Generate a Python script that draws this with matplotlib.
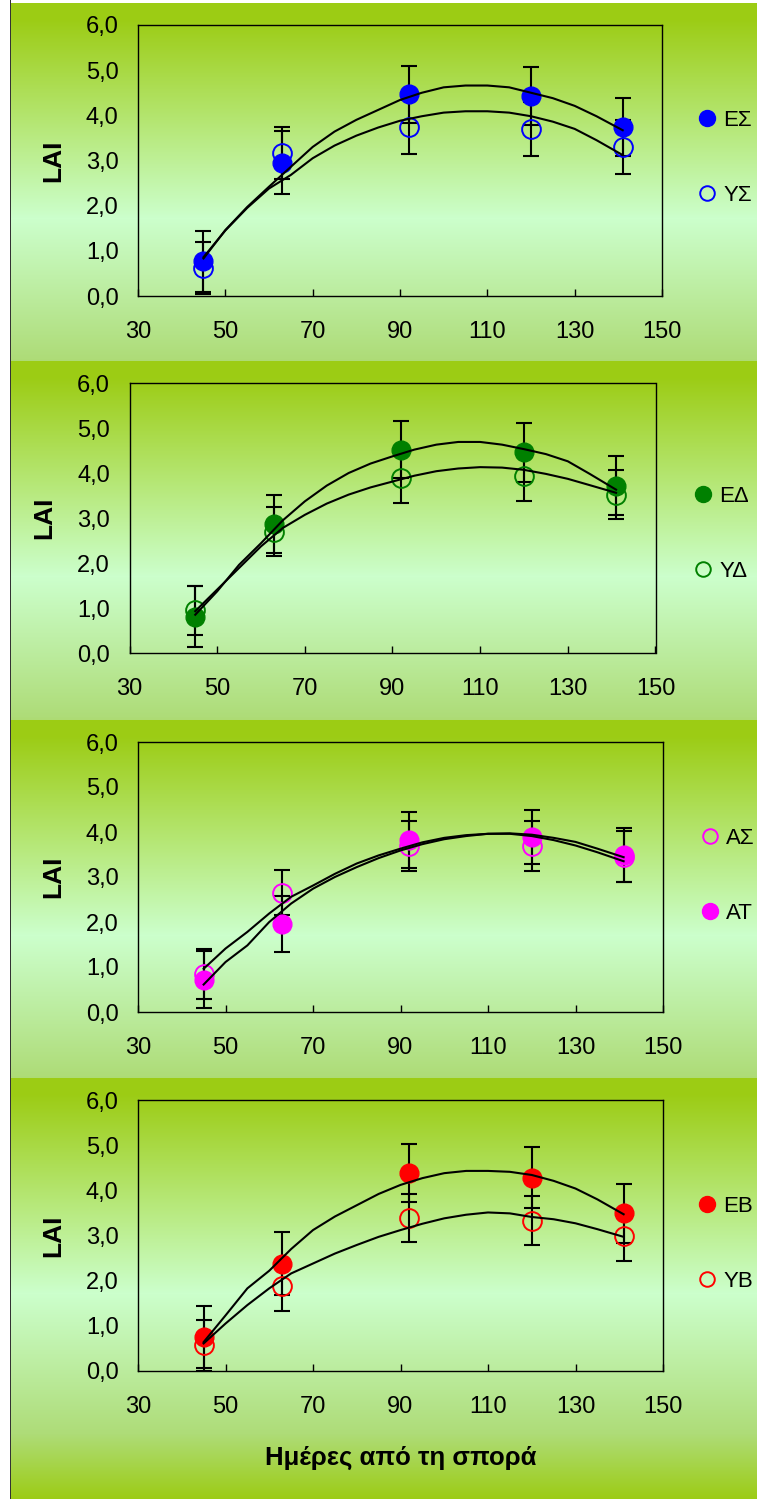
import numpy as np
import matplotlib
matplotlib.use('Agg')
import matplotlib.pyplot as plt
from matplotlib.lines import Line2D
from matplotlib.ticker import FuncFormatter

plt.rcParams['font.family'] = ['Liberation Sans', 'DejaVu Sans']

# sampling days
days = [45, 63, 92, 120, 141]
curve_days = [45, 50, 55, 60, 65, 70, 75, 80, 85, 90, 95, 100, 105,
              110, 115, 120, 125, 130, 135, 141]

# panel 1 (ΕΣ / ΥΣ)
es = [0.77, 2.95, 4.47, 4.42, 3.75]
es_err = [0.68, 0.70, 0.63, 0.64, 0.64]
ys = [0.62, 3.17, 3.75, 3.70, 3.30]
ys_err = [0.58, 0.57, 0.60, 0.60, 0.59]
es_fit = [0.83, 1.46, 1.97, 2.42, 2.86, 3.30, 3.64, 3.90, 4.12, 4.34, 4.50, 4.62, 4.66,
          4.66, 4.62, 4.50, 4.38, 4.21, 3.98, 3.67]
ys_fit = [0.86, 1.45, 1.95, 2.38, 2.68, 3.05, 3.33, 3.55, 3.73, 3.88, 3.98, 4.06, 4.09,
          4.09, 4.06, 3.98, 3.86, 3.70, 3.45, 3.12]

# panel 2 (ΕΔ / ΥΔ)
ed = [0.81, 2.87, 4.52, 4.46, 3.72]
ed_err = [0.68, 0.65, 0.63, 0.65, 0.65]
yd = [0.95, 2.70, 3.89, 3.93, 3.52]
yd_err = [0.54, 0.55, 0.55, 0.55, 0.55]
ed_fit = [0.85, 1.37, 1.96, 2.44, 2.95, 3.37, 3.72, 4.00, 4.21, 4.37, 4.52, 4.63, 4.69,
          4.69, 4.63, 4.53, 4.42, 4.26, 3.98, 3.63]
yd_fit = [0.93, 1.41, 1.89, 2.37, 2.78, 3.07, 3.32, 3.52, 3.68, 3.81, 3.94, 4.04, 4.10,
          4.13, 4.12, 4.07, 3.98, 3.87, 3.73, 3.56]

# panel 3 (ΑΣ / ΑΤ)
as_ = [0.85, 2.65, 3.69, 3.69, 3.45]
as_err = [0.55, 0.50, 0.55, 0.56, 0.57]
at = [0.72, 1.96, 3.83, 3.89, 3.48]
at_err = [0.63, 0.62, 0.62, 0.60, 0.60]
as_fit = [0.96, 1.41, 1.78, 2.19, 2.56, 2.81, 3.07, 3.30, 3.48, 3.63, 3.77, 3.87, 3.93,
          3.96, 3.97, 3.94, 3.87, 3.78, 3.63, 3.44]
at_fit = [0.61, 1.11, 1.48, 2.00, 2.41, 2.74, 3.00, 3.22, 3.42, 3.59, 3.73, 3.84, 3.91,
          3.96, 3.96, 3.91, 3.82, 3.70, 3.55, 3.35]

# panel 4 (ΕΒ / ΥΒ)
eb = [0.75, 2.38, 4.38, 4.28, 3.49]
eb_err = [0.68, 0.69, 0.64, 0.67, 0.66]
yb = [0.57, 1.88, 3.39, 3.33, 2.99]
yb_err = [0.57, 0.55, 0.53, 0.54, 0.55]
eb_fit = [0.64, 1.23, 1.83, 2.22, 2.70, 3.12, 3.42, 3.67, 3.92, 4.12, 4.27, 4.38, 4.43,
          4.43, 4.41, 4.34, 4.21, 4.04, 3.80, 3.47]
yb_fit = [0.61, 1.05, 1.46, 1.83, 2.16, 2.38, 2.60, 2.79, 2.97, 3.12, 3.26, 3.38, 3.46,
          3.51, 3.49, 3.41, 3.36, 3.27, 3.14, 2.97]

W, H = 757, 1499
fig = plt.figure(figsize=(W / 100, H / 100), dpi=100)

# background: white strip, dark line, then a gradient per panel
bright = np.array([156, 204, 20]) / 255
pale = np.array([204, 255, 204]) / 255
mid = np.array([174, 220, 120]) / 255
stop_d = [0, 15, 215, 355, 421]
stop_c = [bright, bright, pale, mid, bright]
bg = np.ones((H, W, 3))
panel_edges = [3, 361, 720, 1078, H]
for top, bot in zip(panel_edges[:-1], panel_edges[1:]):
    d = np.arange(bot - top)
    for k in range(3):
        col = np.interp(d, stop_d, [c[k] for c in stop_c])
        bg[top:bot, 11:, k] = col[:, None]
bg[:, 10, :] = 0.2
ax_bg = fig.add_axes([0, 0, 1, 1])
ax_bg.imshow(bg, aspect='auto', interpolation='nearest')
ax_bg.axis('off')

# panel layout in pixels: left, right, top, bottom, legend left x, legend center y
boxes = [
    (138, 662, 25, 296, 698, 158),
    (129.5, 655.5, 383, 653, 694, 534),
    (138, 663, 742, 1012, 701, 876),
    (138, 663, 1100, 1371, 698, 1244),
]

panels = [
    [('ΕΣ', es, es_err, es_fit, True), ('ΥΣ', ys, ys_err, ys_fit, False), 'blue'],
    [('ΕΔ', ed, ed_err, ed_fit, True), ('ΥΔ', yd, yd_err, yd_fit, False), '#008000'],
    [('ΑΣ', as_, as_err, as_fit, False), ('ΑΤ', at, at_err, at_fit, True), '#FF00FF'],
    [('ΕΒ', eb, eb_err, eb_fit, True), ('ΥΒ', yb, yb_err, yb_fit, False), 'red'],
]

comma = FuncFormatter(lambda v, p: f'{v:.1f}'.replace('.', ','))

for (l, r, t, b, lx, ly), (s1, s2, color) in zip(boxes, panels):
    ax = fig.add_axes([l / W, 1 - b / H, (r - l) / W, (b - t) / H])
    ax.set_facecolor('none')
    handles = []
    for name, vals, err, fit, filled in (s1, s2):
        ax.errorbar(days, vals, yerr=err, fmt='none', ecolor='black',
                    elinewidth=1.5, capsize=5.5, capthick=1.5, zorder=2)
        if filled:
            ax.plot(days, vals, 'o', color=color, ms=13.5, zorder=4)
            h = Line2D([], [], marker='o', ls='none', color=color, ms=11.5)
        else:
            ax.plot(days, vals, 'o', mfc='none', mec=color, mew=1.4, ms=13.5, zorder=3)
            h = Line2D([], [], marker='o', ls='none', mfc='none', mec=color, mew=1.4, ms=10.5)
        ax.plot(curve_days, fit, color='black', lw=1.5, zorder=5)
        handles.append((h, name))
    ax.set_xlim(30, 150)
    ax.set_ylim(0, 6)
    ax.set_xticks(range(30, 151, 20))
    ax.set_yticks(range(0, 7))
    ax.yaxis.set_major_formatter(comma)
    ax.tick_params(axis='x', direction='in', length=5, width=1, pad=18, labelsize=17)
    ax.tick_params(axis='y', length=0, pad=14, labelsize=17)
    for sp in ax.spines.values():
        sp.set_linewidth(1.0)
        sp.set_color('black')
    ax.text(-85 / (r - l), 0.5, 'LAI', transform=ax.transAxes, rotation=90,
            ha='center', va='center', fontsize=19, fontweight='bold')
    fig.legend([h for h, n in handles], [n for h, n in handles],
               loc='center left', bbox_to_anchor=(lx / W, 1 - ly / H),
               frameon=False, fontsize=16, handlelength=0.8, handletextpad=0.33,
               labelspacing=2.45, borderpad=0, borderaxespad=0)

ax.set_xlabel('Ημέρες από τη σπορά', fontsize=18.5, fontweight='bold', labelpad=20)

fig.savefig('out.png', dpi=100)
